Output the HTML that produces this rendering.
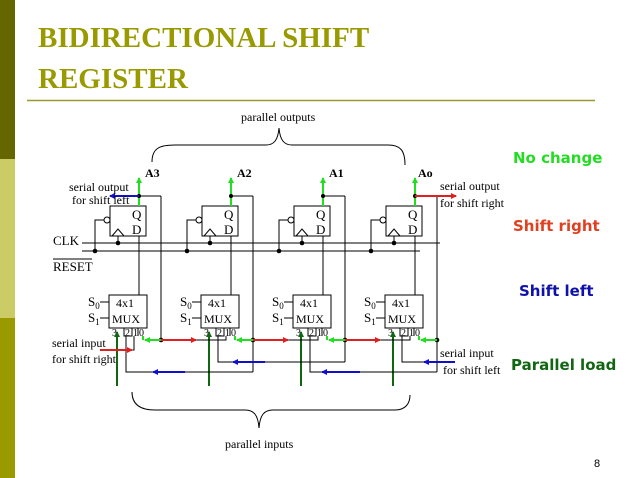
<!DOCTYPE html>
<html><head><meta charset="utf-8"><style>
html,body{margin:0;padding:0;background:#fff}
svg{display:block}
.t{font-family:"Liberation Serif",serif;fill:#000}
.lbl{font-family:"DejaVu Sans",sans-serif;font-weight:bold;font-size:15px}
</style></head><body>
<svg width="638" height="478" viewBox="0 0 638 478" xmlns="http://www.w3.org/2000/svg">
<defs>
<marker id="ag" markerWidth="6" markerHeight="6" refX="5" refY="3" orient="auto" markerUnits="userSpaceOnUse"><path d="M0,0 L6,3 L0,6z" fill="#22dd22"/></marker>
<marker id="adg" markerWidth="6" markerHeight="6" refX="5" refY="3" orient="auto" markerUnits="userSpaceOnUse"><path d="M0,0 L6,3 L0,6z" fill="#116611"/></marker>
<marker id="ar" markerWidth="6" markerHeight="6" refX="5" refY="3" orient="auto" markerUnits="userSpaceOnUse"><path d="M0,0 L6,3 L0,6z" fill="#e02020"/></marker>
<marker id="ab" markerWidth="6" markerHeight="6" refX="5" refY="3" orient="auto" markerUnits="userSpaceOnUse"><path d="M0,0 L6,3 L0,6z" fill="#1010cc"/></marker>
<g id="stage">
 <rect x="110" y="206" width="36" height="30" fill="#fff" stroke="#000" stroke-width="1"/>
 <text class="t" x="132" y="219" font-size="13">Q</text>
 <text class="t" x="132" y="234" font-size="13">D</text>
 <polyline points="112,236 118,229 124,236" fill="none" stroke="#000"/>
 <circle cx="107" cy="220" r="3" fill="#fff" stroke="#000"/>
 <polyline points="104,220 95,220 95,251" fill="none" stroke="#000"/>
 <circle cx="95" cy="251" r="2.3" fill="#000"/>
 <line x1="118" y1="236" x2="118" y2="243" stroke="#000"/>
 <circle cx="118" cy="243" r="2.3" fill="#000"/>
 <line x1="139" y1="206" x2="139" y2="178" stroke="#22dd22" stroke-width="2" marker-end="url(#ag)"/>
 <circle cx="139" cy="196" r="2" fill="#000"/>
 <line x1="139" y1="196" x2="161" y2="196" stroke="#000"/>
 <line x1="139" y1="236" x2="139" y2="295" stroke="#000"/>
 <rect x="109" y="295" width="38" height="33" fill="#fff" stroke="#000"/>
 <text class="t" x="116" y="307" font-size="12">4x1</text>
 <text class="t" x="112" y="323" font-size="12">MUX</text>
 <line x1="100" y1="302" x2="109" y2="302" stroke="#000"/>
 <line x1="100" y1="318" x2="109" y2="318" stroke="#000"/>
 <text class="t" x="88" y="306" font-size="13">S<tspan font-size="9" dy="3">0</tspan></text>
 <text class="t" x="88" y="322" font-size="13">S<tspan font-size="9" dy="3">1</tspan></text>
 <polyline points="124,328 124,336 132,336 132,328" fill="none" stroke="#000"/>
 <polyline points="138,328 138,336" fill="none" stroke="#000"/>
 <text class="t" x="112" y="336" font-size="10">3</text>
 <text class="t" x="125" y="336" font-size="10">2</text>
 <text class="t" x="133" y="336" font-size="10">1</text>
 <text class="t" x="139" y="336" font-size="10">0</text>
 <line x1="117" y1="386" x2="117" y2="332" stroke="#116611" stroke-width="2" marker-end="url(#adg)"/>
 <line x1="143" y1="336" x2="143" y2="340" stroke="#22dd22" stroke-width="2"/>
</g>
</defs>
<rect x="0" y="0" width="15" height="159" fill="#666600"/>
<rect x="0" y="159" width="15" height="159" fill="#cccc66"/>
<rect x="0" y="318" width="15" height="160" fill="#999900"/>
<text x="38" y="47" font-family="Liberation Serif,serif" font-weight="bold" font-size="29" fill="#999900">BIDIRECTIONAL SHIFT</text>
<text x="38" y="88" font-family="Liberation Serif,serif" font-weight="bold" font-size="29" fill="#999900">REGISTER</text>
<line x1="27" y1="100.5" x2="595" y2="100.5" stroke="#999933" stroke-width="1.5"/>

<use href="#stage"/>
<use href="#stage" transform="translate(92,0)"/>
<use href="#stage" transform="translate(184,0)"/>
<use href="#stage" transform="translate(276,0)"/>

<g fill="none" stroke="#000">
<line x1="82" y1="243" x2="440" y2="243"/>
<line x1="82" y1="251" x2="420" y2="251"/>
<line x1="161" y1="196" x2="161" y2="340"/>
<line x1="253" y1="196" x2="253" y2="372"/>
<line x1="345" y1="196" x2="345" y2="362"/>
<line x1="437" y1="196" x2="437" y2="372"/>
<polyline points="126,336 126,372 253,372"/>
<polyline points="218,336 218,362 345,362"/>
<polyline points="310,336 310,372 437,372"/>
<polyline points="402,336 402,362 455,362"/>
<polyline points="195,340 226,340 226,336"/>
<polyline points="287,340 318,340 318,336"/>
<polyline points="379,340 410,340 410,336"/>
<polyline points="131,350 134,350 134,336"/>
</g>
<g fill="#000"><circle cx="161" cy="340" r="2.3"/><circle cx="253" cy="340" r="2.3"/><circle cx="345" cy="340" r="2.3"/><circle cx="437" cy="340" r="2.3"/></g>
<g stroke-width="2">
<line x1="161" y1="340" x2="145" y2="340" stroke="#22dd22" marker-end="url(#ag)"/>
<line x1="253" y1="340" x2="237" y2="340" stroke="#22dd22" marker-end="url(#ag)"/>
<line x1="345" y1="340" x2="329" y2="340" stroke="#22dd22" marker-end="url(#ag)"/>
<line x1="437" y1="340" x2="421" y2="340" stroke="#22dd22" marker-end="url(#ag)"/>
<line x1="161" y1="340" x2="196" y2="340" stroke="#e02020" marker-end="url(#ar)"/>
<line x1="253" y1="340" x2="288" y2="340" stroke="#e02020" marker-end="url(#ar)"/>
<line x1="345" y1="340" x2="380" y2="340" stroke="#e02020" marker-end="url(#ar)"/>
<line x1="100" y1="350" x2="132" y2="350" stroke="#e02020" marker-end="url(#ar)"/>
<line x1="415" y1="196" x2="456" y2="196" stroke="#e02020" marker-end="url(#ar)"/>
<line x1="139" y1="196" x2="110" y2="196" stroke="#1010cc" marker-end="url(#ab)"/>
<line x1="185" y1="372" x2="153" y2="372" stroke="#1010cc" marker-end="url(#ab)"/>
<line x1="265" y1="362" x2="233" y2="362" stroke="#1010cc" marker-end="url(#ab)"/>
<line x1="360" y1="372" x2="322" y2="372" stroke="#1010cc" marker-end="url(#ab)"/>
<line x1="455" y1="362" x2="424" y2="362" stroke="#1010cc" marker-end="url(#ab)"/>
</g>
<g class="t" font-size="12">
<text x="145" y="177" font-weight="bold">A3</text>
<text x="237" y="177" font-weight="bold">A2</text>
<text x="329" y="177" font-weight="bold">A1</text>
<text x="418" y="177" font-weight="bold">Ao</text>
<text x="69" y="191">serial output</text>
<text x="72" y="204">for shift left</text>
<text x="440" y="190">serial output</text>
<text x="440" y="207">for shift right</text>
<text x="52" y="347">serial input</text>
<text x="52" y="363">for shift right</text>
<text x="440" y="357">serial input</text>
<text x="443" y="374">for shift left</text>
<text x="53" y="245" font-size="13">CLK</text>
<text x="53" y="271" font-size="13">RESET</text>
<text x="241" y="121">parallel outputs</text>
<text x="225" y="448">parallel inputs</text>
<text x="594" y="467" font-family="Liberation Sans,sans-serif" font-size="11">8</text>
</g>
<line x1="53" y1="259" x2="92" y2="259" stroke="#000"/>
<path d="M152,162 C152,148 160,145 175,145 L266,145 C274,145 278,140 279,128 C280,140 284,145 292,145 L388,145 C400,145 405,150 405,165" fill="none" stroke="#000"/>
<path d="M132,392 C132,404 140,410 155,410 L245,410 C254,410 258,415 259,428 C260,415 264,410 273,410 L395,410 C405,410 410,404 410,395" fill="none" stroke="#000"/>
<text class="lbl" x="513" y="163" fill="#22dd22">No change</text>
<text class="lbl" x="513" y="231" fill="#e04020">Shift right</text>
<text class="lbl" x="519" y="296" fill="#1010aa">Shift left</text>
<text class="lbl" x="511" y="370" fill="#116611">Parallel load</text>
</svg>
</body></html>
